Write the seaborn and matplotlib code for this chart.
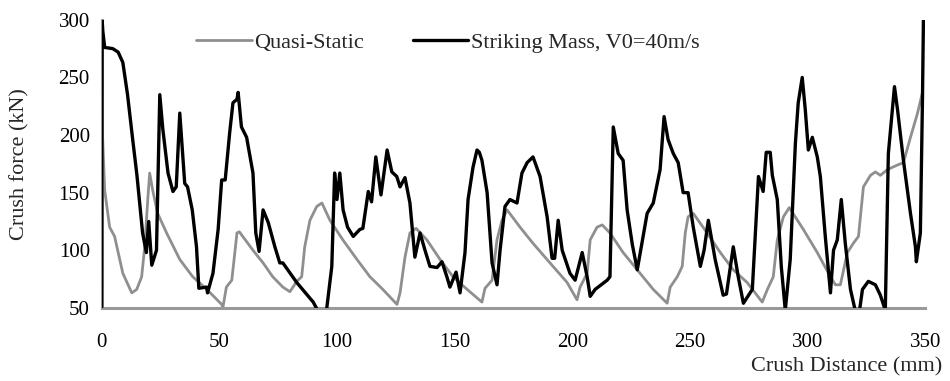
import matplotlib
matplotlib.use("Agg")
import matplotlib.pyplot as plt
import seaborn as sns
import pandas as pd

# Quasi-static test (grey curve)
qs_x = [0, 1.3, 3.4, 5.5, 9, 12.8, 14.9, 17, 18.3, 19.6, 20.4, 21.7, 23.8, 27.6,
        33.2, 38.7, 44.7, 51, 51.5, 53, 55.3, 56.6, 57.5, 58.5, 64.3, 68.6, 72.7, 77,
        80, 82.9, 85, 86.3, 88.5, 91.4, 93.6, 97, 102.5, 108.5, 114, 119.5, 125.5,
        126.8, 128.9, 131, 133.6, 138.2, 143.8, 149.3, 155.3, 161.6, 162.9, 165.9,
        168, 170.1, 172.3, 177.8, 183.3, 191.8, 197.8, 202, 203.3, 206.3, 207.6,
        210.5, 212.7, 216, 221.6, 228.8, 234.4, 240.3, 241.6, 244.6, 246.7, 248,
        249.2, 251.4, 257.3, 262.9, 268.4, 274.3, 280.7, 282.9, 285.4, 287.1, 289.7,
        292.2, 298.2, 304.1, 309.7, 311.8, 313.9, 316.9, 319.4, 321.6, 323.7, 326.7,
        328.8, 330.9, 333.9, 338.2, 340.7, 343.7, 346.7, 348.8]
qs_y = [219, 152, 120, 112, 80, 63, 66, 77, 103, 144, 167, 152, 132, 115,
        92, 77, 66, 53, 50, 68, 74, 98, 115, 116, 100, 89, 77, 68,
        64, 73, 77, 103, 126, 138, 141, 126, 109, 92, 77, 66, 53,
        63, 94, 115, 119, 109, 92, 77, 66, 55, 67, 74,
        109, 126, 135, 120, 106, 86, 72, 57, 68, 80, 109,
        120, 122, 115, 98, 80, 66, 54, 68, 77, 86, 115,
        129, 132, 115, 98, 83, 72, 55, 66, 77, 109, 129,
        137, 118, 98, 77, 70, 70, 98, 106, 112, 155, 165,
        168, 165, 170, 174, 176, 198, 219, 237]

# Striking mass, V0 = 40 m/s (black curve)
sm_x = [0, 0.2, 0.5, 1.3, 4.7, 7, 9, 11, 13.2, 15, 17.4, 19, 20, 21.3, 23.3, 24.7,
        26, 28.2, 30.3, 31.7, 33.2, 35.3, 36.5, 38.5, 40.3, 41.3, 44.6, 45, 47.3,
        49.5, 51, 52.5, 54.4, 55.8, 57.5, 58, 59.4, 61.6, 64.3, 65.5, 66.9, 68.6,
        70.8, 73.6, 75.7, 77, 82.9, 89.9, 92, 95.5, 97.8, 99, 100, 101.2, 102.6,
        104.5, 106.9, 109.7, 111, 113.3, 114.7, 116.5, 118.7, 121.3, 123.3, 125.4,
        126.8, 128.9, 131, 133.1, 135.3, 137.4, 139.5, 142.5, 144.6, 146.7, 148,
        150.6, 152.3, 154.4, 155.7, 157.8, 159.5, 160.5, 161.6, 163.8, 165.9, 168,
        169.3, 171.4, 173.5, 176.5, 178.6, 180.8, 183.3, 186.3, 189.3, 191.4, 192.5,
        194, 195.7, 199, 201.2, 204.2, 206.3, 207.6, 209.7, 214.8, 216, 217.4,
        219.5, 221.6, 223.3, 225.5, 227.6, 229.5, 231.8, 234.4, 237.3, 239, 240.7,
        242.9, 245, 247.1, 249.2, 251.4, 254.4, 256, 257.8, 260.7, 264.1, 265.5,
        268.4, 270.5, 272.7, 276.5, 278.6, 279.1, 281.1, 282.4, 284.1, 285, 287.1,
        288.8, 290.5, 292.6, 294.8, 296, 297.7, 299, 300.3, 302, 304.1, 305.4, 307.5,
        309.7, 311, 312.6, 314.3, 316, 318.2, 320.3, 321.8, 323.3, 325.8, 328.8,
        330.9, 333, 334.3, 336, 336.9, 338.2, 340.7, 343.7, 345.8, 346.2, 347.9,
        348.8, 349.2]
sm_y = [50, 300, 290, 276, 275, 272, 263, 235, 196, 165, 115, 98, 125, 87, 100, 235,
        205, 167, 151, 155, 219, 158, 155, 135, 103, 67, 68, 63, 80,
        118, 161, 161, 202, 228, 231, 237, 207, 198, 167, 115, 99, 135,
        124, 103, 89, 89, 72, 55, 47, 47, 86, 167, 144, 167, 135,
        120, 112, 118, 119, 151, 142, 181, 148, 187, 168, 164,
        155, 163, 141, 94, 115, 100, 86, 85, 90, 77, 68,
        81, 63, 98, 144, 172, 187, 185, 178, 150, 89, 70,
        100, 138, 144, 141, 167, 176, 181, 164, 129, 93, 93,
        126, 100, 80, 74, 98, 77, 60, 66, 74, 77, 207,
        184, 178, 135, 105, 83, 105, 132, 141, 170, 216, 196,
        184, 176, 150, 150, 120, 86, 100, 126, 92, 61, 62,
        103, 77, 54, 66, 144, 164, 151, 185, 185, 165, 144,
        86, 48, 92, 193, 228, 250, 222, 187, 198, 181, 164, 112,
        63, 100, 109, 144, 106, 66, 47, 44, 66, 73, 70,
        61, 48, 184, 222, 242, 222, 178, 132, 103, 90, 115,
        231, 300]

qs = pd.DataFrame({"x": qs_x, "y": qs_y})
sm = pd.DataFrame({"x": sm_x, "y": sm_y})

sns.set_style("white")
plt.rcParams["font.family"] = ["Liberation Serif", "DejaVu Serif"]

fig = plt.figure(figsize=(9.5, 3.81), dpi=100)
ax = fig.add_axes([0.107, 0.192, 0.867, 0.756])

grey = "#8f8f8f"
sns.lineplot(data=qs, x="x", y="y", ax=ax, color=grey, lw=2.0, sort=False,
             label="Quasi-Static", zorder=2)
sns.lineplot(data=sm, x="x", y="y", ax=ax, color="black", lw=2.4, sort=False,
             label="Striking Mass, V0=40m/s", zorder=3)

ax.set_xlim(0, 350)
ax.set_ylim(50, 300)
ax.set_xticks(range(0, 351, 50))
ax.set_yticks(range(50, 301, 50))

for s in ["top", "right"]:
    ax.spines[s].set_visible(False)
for s in ["left", "bottom"]:
    ax.spines[s].set_color("#999999")
    ax.spines[s].set_linewidth(2.2)
ax.spines["left"].set_zorder(1)
ax.tick_params(axis="both", colors="#999999", length=5, width=2, labelsize=15,
               labelcolor="black")
ax.tick_params(axis="x", pad=13)

ax.set_xlabel("Crush Distance (mm)", fontsize=16)
ax.xaxis.set_label_coords(1.02, -0.17)
ax.xaxis.label.set_horizontalalignment("right")
ax.set_ylabel("Crush force (kN)", fontsize=16)
ax.yaxis.set_label_coords(-0.088, 0.5)

ax.legend(loc="center left", bbox_to_anchor=(0.115, 0.92), ncol=2, frameon=False,
          fontsize=16, handlelength=2.5, handletextpad=0.1, columnspacing=2.2,
          borderpad=0, borderaxespad=0)

fig.savefig("out.png", dpi=100)
plt.close(fig)
